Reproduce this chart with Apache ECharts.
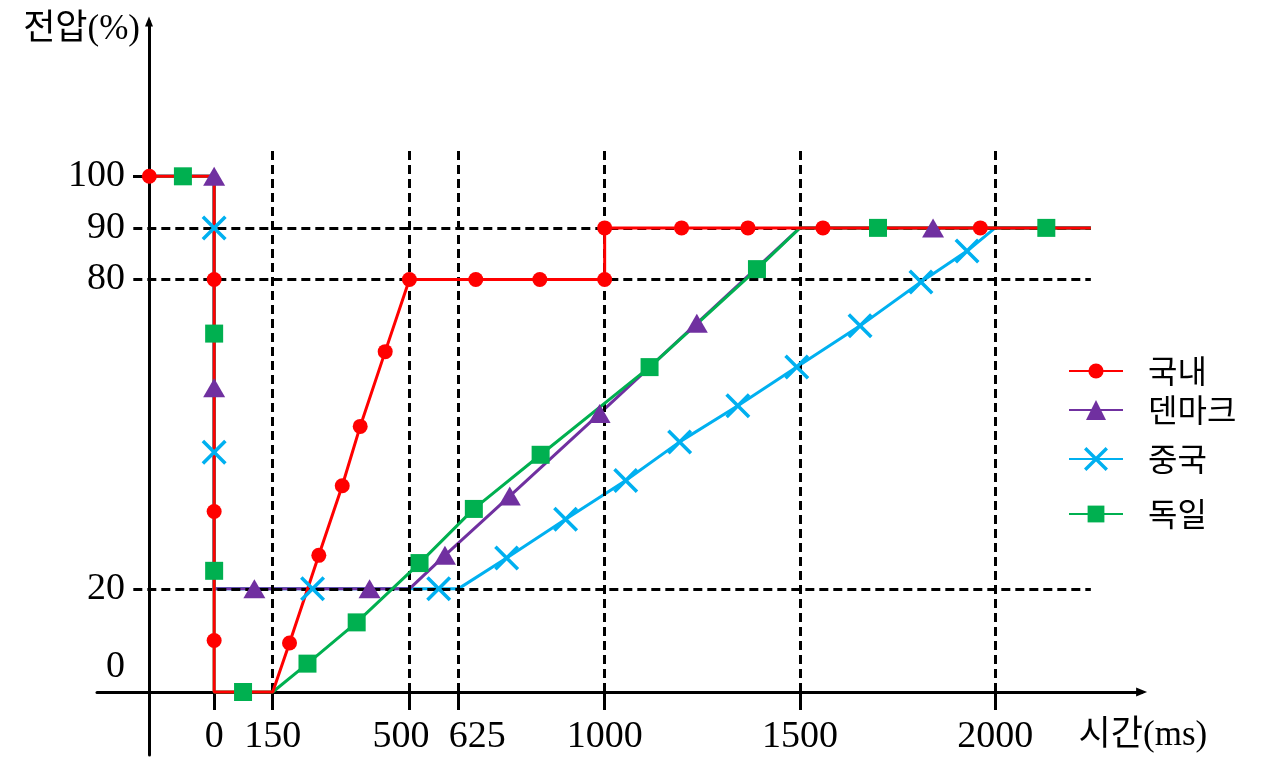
<!DOCTYPE html>
<html><head><meta charset="utf-8">
<script src="https://cdn.jsdelivr.net/npm/echarts@6/dist/echarts.min.js"></script>
<style>html,body{margin:0;padding:0;background:#fff}#c{width:1263px;height:772px}</style>
</head><body><div id="c"></div>
<script>
// ---- data (time in ms, voltage in %) ----
const xTickLabels = [0, 150, 500, 625, 1000, 1500, 2000];
const yTickLabels = [0, 20, 80, 90, 100];
const xGridValues = [150, 500, 625, 1000, 1500, 2000];
const yGridValues = [20, 80, 90];
const seriesNames = ['국내', '덴마크', '중국', '독일'];

// 국내
const redPath = [[-166,100],[0,100],[0,80],[0,35],[0,10],[0,0],[150,0],[193,9.5],[268,26.5],[328,40],[374,51.5],[438,66],[500,80],[670,80],[834,80],[1000,80],[1000,90],[1197,90],[1367,90],[1559,90],[1962,90],[2245,90]];
const redMarks = [[-166,100],[0,80],[0,35],[0,10],[193,9.5],[268,26.5],[328,40],[374,51.5],[438,66],[500,80],[670,80],[834,80],[1000,80],[1000,90],[1197,90],[1367,90],[1559,90],[1962,90]];
// 덴마크
const purplePath = [[-166,100],[0,100],[0,59],[0,20],[103,20],[398,20],[500,20],[591,26.5],[757,38],[987,54],[1236,71.5],[1500,90],[1841,90],[2245,90]];
const purpleMarks = [[0,100],[0,59],[103,20],[398,20],[591,26.5],[757,38],[987,54],[1236,71.5],[1841,90]];
// 중국
const bluePath = [[-166,100],[0,100],[0,90],[0,46.5],[0,20],[252,20],[575,20],[625,20],[749,26],[900,33.5],[1054,41],[1192,48.5],[1341,55.5],[1492,63],[1654,71],[1810,79.5],[1928,85.5],[2000,90],[2245,90]];
const blueMarks = [[0,90],[0,46.5],[252,20],[575,20],[749,26],[900,33.5],[1054,41],[1192,48.5],[1341,55.5],[1492,63],[1654,71],[1810,79.5],[1928,85.5]];
// 독일
const greenPath = [[-166,100],[-80,100],[0,100],[0,69.5],[0,23.5],[0,0],[74,0],[150,0],[239,5.5],[365,13.5],[526,25],[665,35.5],[836,46],[1115,63],[1390,82],[1500,90],[1700,90],[2131,90],[2245,90]];
const greenMarks = [[-80,100],[0,69.5],[0,23.5],[74,0],[239,5.5],[365,13.5],[526,25],[665,35.5],[836,46],[1115,63],[1390,82],[1700,90],[2131,90]];

// ---- styling ----
const SERIF = "'Liberation Serif', 'Noto Sans CJK KR', serif";
const KR = "'Noto Sans CJK KR', sans-serif";
const X_PATH = 'path://M2,0L10,8L18,0L20,2L12,10L20,18L18,20L10,12L2,20L0,18L8,10L0,2Z';
const styles = {
  '국내':   {color:'#FF0000', symbol:'circle',   size:15,      path:redPath,    marks:redMarks,    legendH:19, z:6},
  '덴마크': {color:'#7030A0', symbol:'triangle', size:[22,19], path:purplePath, marks:purpleMarks, legendH:25, z:4},
  '중국':   {color:'#00B0F0', symbol:X_PATH,     size:25,      path:bluePath,   marks:blueMarks,   legendH:30, z:3},
  '독일':   {color:'#00B050', symbol:'rect',     size:18,      path:greenPath,  marks:greenMarks,  legendH:21, z:5}
};
const legendCenters = [371, 410, 459, 514];

const gridTopVal = 105.5, gridLeftVal = -207, gridRightVal = 2245;
const gridLines = [];
xGridValues.forEach(v => gridLines.push([{coord:[v,0]},{coord:[v,gridTopVal]}]));
yGridValues.forEach(v => gridLines.push([{coord:[gridLeftVal,v]},{coord:[gridRightVal,v]}]));

const series = [{
  type:'line', name:'_grid', data:[], silent:true, z:1,
  markLine:{silent:true, symbol:['none','none'], label:{show:false},
    lineStyle:{type:[9,5], width:3, color:'#000', opacity:1}, emphasis:{disabled:true}, data:gridLines}
}];
['중국','덴마크','독일','국내'].forEach(n => {
  const s = styles[n];
  series.push({type:'line', name:n, data:s.path, showSymbol:false, symbol:s.symbol, symbolSize:s.size, clip:false,
    color:s.color, lineStyle:{color:s.color, width:3}, itemStyle:{color:s.color}, z:s.z, silent:true});
});
['중국','덴마크','독일','국내'].forEach(n => {
  const s = styles[n];
  series.push({type:'scatter', name:n+'_marks', data:s.marks, symbol:s.symbol, symbolSize:s.size, clip:false,
    itemStyle:{color:s.color, opacity:1}, z:10, silent:true});
});

const legends = seriesNames.map((n, i) => ({
  data:[n], left:1068, top:legendCenters[i] - 16, orient:'horizontal', padding:0,
  itemWidth:54, itemHeight:styles[n].legendH, selectedMode:false,
  textStyle:{fontFamily:KR, fontSize:32, color:'#000', padding:[0,0,0,20]}
}));

const xLabelFmt = v => v === 500 ? '{a|500}' : (v === 625 ? '{b|625}' : String(v));

const chart = echarts.init(document.getElementById('c'), null, {renderer:'canvas'});
chart.setOption({
  animation:false,
  backgroundColor:'#fff',
  grid:[
    {left:97, right:121.4, top:21.6, bottom:80, outerBoundsMode:'none', containLabel:false},
    {left:97, right:121.4, top:692, bottom:17, outerBoundsMode:'none', containLabel:false}
  ],
  legend:legends,
  xAxis:[{
    type:'value', gridIndex:0, min:-300, max:2375,
    name:'시간(ms)', nameLocation:'end', nameGap:-63, nameMoveOverlap:false,
    nameTextStyle:{fontFamily:SERIF, fontSize:35, color:'#000', align:'left', verticalAlign:'top', padding:[26,0,0,0]},
    axisLine:{onZero:false, lineStyle:{color:'#000', width:3}, symbol:['none','triangle'], symbolSize:[9,11]},
    axisTick:{show:true, customValues:xTickLabels, length:18, lineStyle:{color:'#000', width:3}},
    axisLabel:{customValues:xTickLabels, formatter:xLabelFmt, margin:26,
      fontFamily:SERIF, fontSize:38, color:'#000',
      rich:{
        a:{fontFamily:SERIF, fontSize:38, color:'#000', padding:[0,17,0,0]},
        b:{fontFamily:SERIF, fontSize:38, color:'#000', padding:[0,0,0,38]}
      }},
    splitLine:{show:false}
  }, {
    type:'value', gridIndex:1, min:-300, max:2375, show:false
  }],
  yAxis:[{
    type:'value', gridIndex:0, min:0, max:130, offset:-52,
    name:'전압(%)', nameLocation:'end', nameGap:-8,
    nameTextStyle:{fontFamily:SERIF, fontSize:35, color:'#000', align:'right', verticalAlign:'middle', padding:[0,9,0,0]},
    axisLine:{onZero:false, show:true, lineStyle:{color:'#000', width:3}, symbol:['none','triangle'], symbolSize:[8,10]},
    axisTick:{show:true, customValues:[100], length:16, lineStyle:{color:'#000', width:3}},
    axisLabel:{customValues:yTickLabels, margin:24, fontFamily:SERIF, fontSize:38, color:'#000',
      formatter:v => v === 0 ? '{z|0}' : String(v),
      rich:{z:{fontFamily:SERIF, fontSize:38, color:'#000', padding:[0,0,50,0]}}},
    splitLine:{show:false}
  }, {
    type:'value', gridIndex:1, min:0, max:1, offset:-52,
    axisLine:{onZero:false, show:true, lineStyle:{color:'#000', width:3}},
    axisTick:{show:false}, axisLabel:{show:false}, splitLine:{show:false}
  }],
  series:series
});
</script></body></html>
